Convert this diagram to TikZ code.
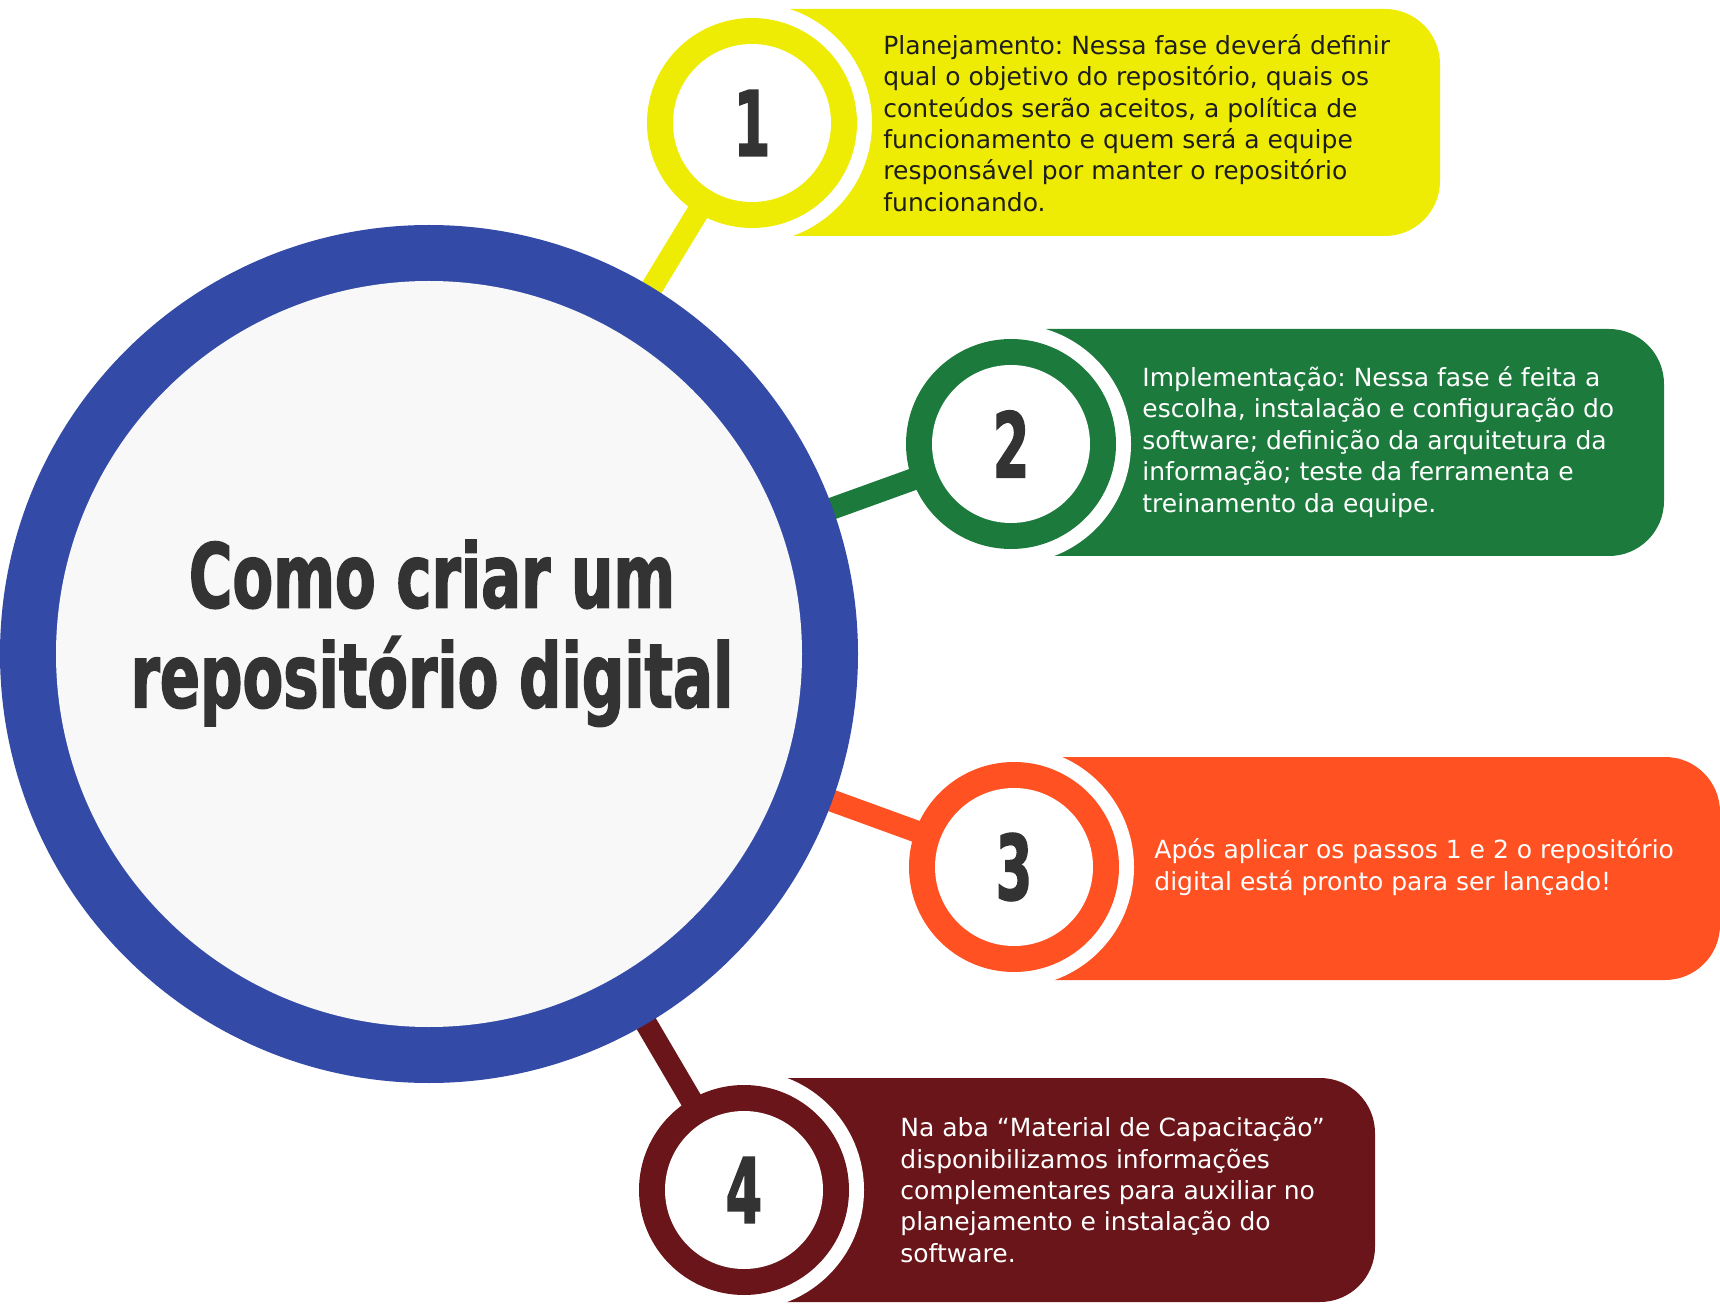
\documentclass[tikz,border=0pt]{standalone}
\usepackage{fontspec}
\setmainfont{DejaVu Sans}
\newfontfamily\heavyfont{DejaVu Sans}[FakeStretch=0.665, FakeBold=1.6]
\newfontfamily\numfont{DejaVu Sans}[FakeStretch=0.58, FakeBold=1.6]
\definecolor{cblue}{HTML}{334AA6}
\definecolor{clight}{HTML}{F8F8F8}
\definecolor{cyellow}{HTML}{EEEC05}
\definecolor{cgreen}{HTML}{1C7B3C}
\definecolor{corange}{HTML}{FF5122}
\definecolor{cdred}{HTML}{6A151A}
\definecolor{cgray}{HTML}{333333}
\definecolor{ctext}{HTML}{1E1E1E}
\pgfdeclarelayer{bg}
\pgfdeclarelayer{links}
\pgfsetlayers{bg,links,main}
\tikzset{
  ring/.style={circle, inner sep=0pt, minimum size=105pt},
  hole/.style={circle, fill=white, inner sep=0pt, minimum size=79pt},
  halo/.style={circle, fill=white, inner sep=0pt, minimum size=120pt},
  num/.style={inner sep=0pt, text=cgray, font=\numfont\bfseries\fontsize{45pt}{45pt}\selectfont},
  body/.style={anchor=west, align=left, inner sep=0pt, font=\frenchspacing\fontsize{12.5pt}{15.7pt}\selectfont},
  titletext/.style={anchor=base, inner sep=0pt, text=cgray, font=\heavyfont\bfseries\fontsize{44.6pt}{50pt}\selectfont},
  link/.style={line width=11pt, shorten <=-6pt, shorten >=-6pt},
  panel/.style={rounded corners=27.5pt}
}
\begin{document}
\begin{tikzpicture}[x=0.5pt, y=-0.5pt]
\useasboundingbox (0,0) rectangle (1720,1310);

% central circle
\node[circle, fill=cblue, minimum size=429pt, inner sep=0pt] (c) at (429,654) {};
\node[circle, fill=clight, minimum size=373pt, inner sep=0pt] (ci) at (c) {};
\node[titletext] (t1) at (432,607.6) {Como criar um};
\node[titletext] (t2) at (432,707.5) {repositório digital};

% step 1
\begin{pgfonlayer}{bg}
\fill[cyellow, panel] (732,9) rectangle (1440,236);
\node[halo] (h1) at (752,123) {};
\end{pgfonlayer}
\node[ring, fill=cyellow] (n1) at (752,123) {};
\node[hole] (w1) at (n1) {};
\node[num] (d1) at (n1) {1};
\node[body, text=ctext] (p1) at (883,123) {Planejamento: Nessa fase deverá definir\\qual o objetivo do repositório, quais os\\conteúdos serão aceitos, a política de\\funcionamento e quem será a equipe\\responsável por manter o repositório\\funcionando.};

% step 2
\begin{pgfonlayer}{bg}
\fill[cgreen, panel] (991,329) rectangle (1664,556);
\node[halo] (h2) at (1011,444) {};
\end{pgfonlayer}
\node[ring, fill=cgreen] (n2) at (1011,444) {};
\node[hole] (w2) at (n2) {};
\node[num] (d2) at (n2) {2};
\node[body, text=white] (p2) at (1142,442) {Implementação: Nessa fase é feita a\\escolha, instalação e configuração do\\software; definição da arquitetura da\\informação; teste da ferramenta e\\treinamento da equipe.};

% step 3
\begin{pgfonlayer}{bg}
\fill[corange, panel] (994,757) rectangle (1720,980);
\node[halo] (h3) at (1014,867) {};
\end{pgfonlayer}
\node[ring, fill=corange] (n3) at (1014,867) {};
\node[hole] (w3) at (n3) {};
\node[num] (d3) at (n3) {3};
\node[body, text=white] (p3) at (1154,867) {Após aplicar os passos 1 e 2 o repositório\\digital está pronto para ser lançado!};

% step 4
\begin{pgfonlayer}{bg}
\fill[cdred, panel] (724,1078) rectangle (1375,1302);
\node[halo] (h4) at (744,1190) {};
\end{pgfonlayer}
\node[ring, fill=cdred] (n4) at (744,1190) {};
\node[hole] (w4) at (n4) {};
\node[num] (d4) at (n4) {4};
\node[body, text=white] (p4) at (900,1190) {Na aba “Material de Capacitação”\\disponibilizamos informações\\complementares para auxiliar no\\planejamento e instalação do\\software.};

% connectors
\begin{pgfonlayer}{links}
\draw[link, cyellow] (c) -- (n1);
\draw[link, cgreen] (c) -- (n2);
\draw[link, corange] (c) -- (n3);
\draw[link, cdred] (c) -- (n4);
\end{pgfonlayer}
\end{tikzpicture}
\end{document}
